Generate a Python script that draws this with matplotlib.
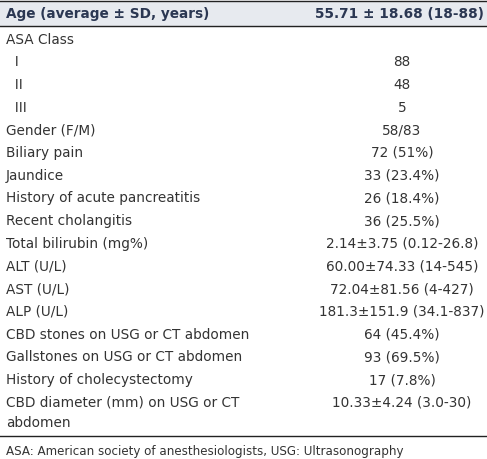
import matplotlib
matplotlib.use("Agg")
import matplotlib.pyplot as plt
plt.rcParams['font.family'] = ['DejaVu Sans']

header = ["Age (average ± SD, years)", "55.71 ± 18.68 (18-88)"]
labels = ["ASA Class", "  I", "  II", "  III", "Gender (F/M)", "Biliary pain", "Jaundice",
          "History of acute pancreatitis", "Recent cholangitis", "Total bilirubin (mg%)",
          "ALT (U/L)", "AST (U/L)", "ALP (U/L)", "CBD stones on USG or CT abdomen",
          "Gallstones on USG or CT abdomen", "History of cholecystectomy",
          "CBD diameter (mm) on USG or CT\nabdomen"]
values = ["", "88", "48", "5", "58/83", "72 (51%)", "33 (23.4%)", "26 (18.4%)", "36 (25.5%)",
          "2.14±3.75 (0.12-26.8)", "60.00±74.33 (14-545)", "72.04±81.56 (4-427)",
          "181.3±151.9 (34.1-837)", "64 (45.4%)", "93 (69.5%)", "17 (7.8%)", "10.33±4.24 (3.0-30)"]
footnote = "ASA: American society of anesthesiologists, USG: Ultrasonography"

W, H = 487, 459
fig = plt.figure(figsize=(W/100, H/100), dpi=100)
ax = fig.add_axes([0, 0, 1, 1])
ax.set_xlim(0, W); ax.set_ylim(H, 0); ax.axis("off")

fs = 9.8
body = "#333333"
hcol = "#2b3752"
ax.add_patch(plt.Rectangle((0, 1), W, 25, color="#e7eaef", zorder=0))
ax.plot([0, W], [1, 1], color="#222222", lw=1)
ax.plot([0, W], [26, 26], color="#222222", lw=1)
ax.text(6, 14, header[0], fontsize=fs, fontweight="bold", color=hcol, va="center")
ax.text(484, 14, header[1], fontsize=fs, fontweight="bold", color=hcol, va="center", ha="right")

y0, step = 39.5, 22.7
for i, (lab, val) in enumerate(zip(labels, values)):
    y = y0 + i * step
    if "\n" in lab:
        a, b = lab.split("\n")
        ax.text(6, y, a, fontsize=fs, color=body, va="center")
        ax.text(6, y + 20, b, fontsize=fs, color=body, va="center")
    else:
        ax.text(6, y, lab, fontsize=fs, color=body, va="center")
    ax.text(402, y, val, fontsize=fs, color=body, va="center", ha="center")

ax.plot([0, W], [436, 436], color="#222222", lw=1)
ax.text(6, 451, footnote, fontsize=8.6, color=body, va="center")
fig.savefig("out.png", dpi=100)
